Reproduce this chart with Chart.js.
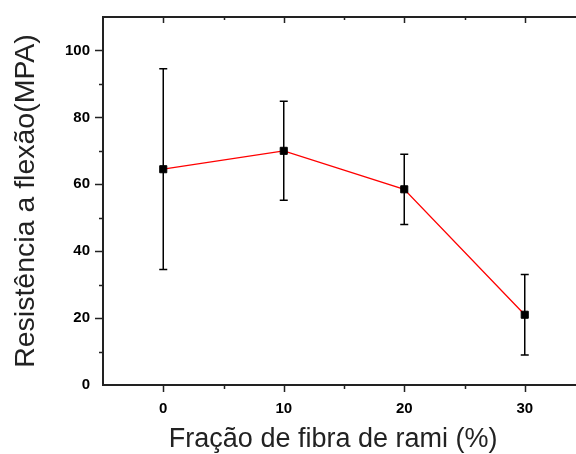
<!DOCTYPE html>
<html>
<head>
<meta charset="utf-8">
<script src="https://cdn.jsdelivr.net/npm/chart.js@4"></script>
<style>
  html, body { margin: 0; padding: 0; background: #fff; overflow: hidden; }
  canvas { display: block; }
</style>
</head>
<body>
<canvas id="grafico" width="600" height="454"></canvas>
<script>
// dados
const fracao = [0, 10, 20, 30];
const resistencia = [64.5, 70, 58.5, 21];
const erro = [30, 14.8, 10.5, 12];
const xRotulos = [0, 10, 20, 30];
const yRotulos = [0, 20, 40, 60, 80, 100];
const tituloX = 'Fração de fibra de rami (%)';
const tituloY = 'Resistência a flexão(MPA)';

const fonteTicks = { family: '"Liberation Sans", Arial, sans-serif', size: 15, weight: 'bold' };

// barras de erro, moldura superior, ticks maiores/menores e título do eixo x
const eixos = {
  id: 'eixos',
  beforeDatasetsDraw(chart) {
    const { ctx, scales: { x, y } } = chart;
    ctx.save();
    ctx.strokeStyle = '#000';
    ctx.lineWidth = 1.5;
    resistencia.forEach((v, i) => {
      const px = x.getPixelForValue(fracao[i]);
      const yTop = y.getPixelForValue(v + erro[i]);
      const yBot = y.getPixelForValue(v - erro[i]);
      ctx.beginPath();
      ctx.moveTo(px, yTop); ctx.lineTo(px, yBot);
      ctx.moveTo(px - 4, yTop); ctx.lineTo(px + 4, yTop);
      ctx.moveTo(px - 4, yBot); ctx.lineTo(px + 4, yBot);
      ctx.stroke();
    });
    ctx.restore();
  },
  afterDraw(chart) {
    const { ctx, chartArea: a, scales: { x, y } } = chart;
    ctx.save();
    ctx.strokeStyle = '#222';
    ctx.lineWidth = 2;
    ctx.beginPath();
    ctx.moveTo(a.left - 1, a.top); ctx.lineTo(a.right, a.top);
    ctx.stroke();

    ctx.lineWidth = 1.5;
    ctx.beginPath();
    x.ticks.forEach(t => {
      if (t.value <= x.min || t.value >= x.max) return;
      const px = Math.round(x.getPixelForValue(t.value)) + 0.5;
      const major = xRotulos.includes(t.value);
      ctx.moveTo(px, a.bottom); ctx.lineTo(px, a.bottom + (major ? 7 : 4));
      ctx.moveTo(px, a.top); ctx.lineTo(px, a.top + (major ? 6 : 3));
    });
    y.ticks.forEach(t => {
      if (t.value <= y.min || t.value >= y.max) return;
      const py = Math.round(y.getPixelForValue(t.value)) + 0.5;
      const major = yRotulos.includes(t.value);
      ctx.moveTo(a.left, py); ctx.lineTo(a.left - (major ? 8 : 4), py);
    });
    ctx.stroke();

    ctx.fillStyle = '#222';
    ctx.font = '27px "Liberation Sans", Arial, sans-serif';
    ctx.textAlign = 'center';
    ctx.textBaseline = 'middle';
    ctx.fillText(tituloX, x.getPixelForValue(14.1), 440);
    ctx.restore();
  }
};

new Chart(document.getElementById('grafico'), {
  type: 'line',
  data: {
    datasets: [{
      data: fracao.map((f, i) => ({ x: f, y: resistencia[i] })),
      borderColor: '#ff0000',
      borderWidth: 1.3,
      pointStyle: 'rect',
      pointRadius: 5,
      pointBorderWidth: 1,
      pointBackgroundColor: '#000',
      pointBorderColor: '#000',
      tension: 0
    }]
  },
  options: {
    responsive: false,
    animation: false,
    layout: { padding: { top: 17, right: 5, left: 0, bottom: 0 } },
    plugins: { legend: { display: false }, tooltip: { enabled: false } },
    scales: {
      x: {
        type: 'linear',
        min: -5,
        max: 35,
        grid: { display: false, drawTicks: false },
        border: { color: '#222', width: 2 },
        ticks: {
          stepSize: 5,
          padding: 15,
          color: '#000',
          font: fonteTicks,
          maxRotation: 0,
          autoSkip: false,
          callback: v => xRotulos.includes(v) ? String(v) : ''
        },
        afterFit: s => { s.height = 69; }
      },
      y: {
        min: 0,
        max: 110,
        grid: { display: false, drawTicks: false },
        border: { color: '#222', width: 2 },
        title: {
          display: true,
          text: tituloY,
          color: '#222',
          font: { family: '"Liberation Sans", Arial, sans-serif', size: 28.5, lineHeight: 1 },
          padding: { top: 12, bottom: 0 }
        },
        ticks: {
          stepSize: 10,
          padding: 13,
          color: '#000',
          font: { ...fonteTicks, lineHeight: 0.3 },
          autoSkip: false,
          callback: v => yRotulos.includes(v) ? String(v) : ''
        },
        afterFit: s => { s.width = 103; }
      }
    }
  },
  plugins: [eixos]
});
</script>
</body>
</html>
